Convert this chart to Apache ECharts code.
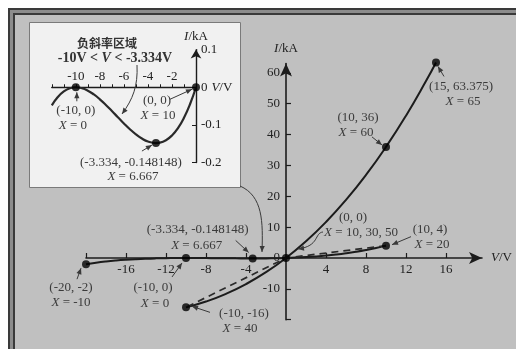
<!DOCTYPE html>
<html>
<head>
<meta charset="utf-8">
<script src="https://cdn.jsdelivr.net/npm/echarts@6/dist/echarts.min.js"></script>
<style>
html,body{margin:0;padding:0;background:#fff;}
#chart{width:516px;height:349px;}
</style>
</head>
<body>
<div id="chart"></div>
<script>
// Lower branch of the I-V characteristic (X from -10 to 20)
const lowV = [-20, -19, -18, -17, -16, -15, -14, -13, -12, -11, -10, -9, -8, -7, -6, -5, -4, -3.334, -3, -2, -1, 0, 1, 2, 3, 4, 5, 6, 7, 8, 9, 10];
const lowI = [-2, -1.539, -1.152, -0.833, -0.576, -0.375, -0.224, -0.117, -0.048, -0.011, 0, -0.009, -0.032, -0.063, -0.096, -0.125, -0.144, -0.148148, -0.147, -0.128, -0.081, 0, 0.121, 0.288, 0.507, 0.784, 1.125, 1.536, 2.023, 2.592, 3.249, 4];

// Upper branch (X from 40 to 65)
const highV = [-10, -8, -6, -4, -2, 0, 2, 4, 6, 8, 10, 12, 14, 15];
const highI = [-16, -14.112, -11.616, -8.464, -4.608, 0, 5.408, 11.664, 18.816, 26.912, 36, 46.128, 57.344, 63.375];

// Straight transitions (X from 20 to 40)
const jumpV = [10, 0, -10];
const jumpI = [4, 0, -16];

// Enlarged negative-slope region
const zoomV = [-12, -11.5, -11, -10.5, -10, -9.5, -9, -8.5, -8, -7.5, -7, -6.5, -6, -5.5, -5, -4.5, -4, -3.334, -3, -2.5, -2, -1.5, -1, -0.5, 0];
const zoomI = [-0.048, -0.0259, -0.011, -0.0026, 0, -0.0024, -0.009, -0.0191, -0.032, -0.0469, -0.063, -0.0796, -0.096, -0.1114, -0.125, -0.1361, -0.144, -0.148148, -0.147, -0.1406, -0.128, -0.1084, -0.081, -0.0451, 0];

// Marked points and their parameter values
const markV = [-20, -10, -3.334, 0, 10, -10, 10, 15];
const markI = [-2, 0, -0.148148, 0, 4, -16, 36, 63.375];
const markX = ['-10', '0', '6.667', '10, 30, 50', '20', '40', '60', '65'];

const zoomMarkV = [-10, -3.334, 0];
const zoomMarkI = [0, -0.148148, 0];
const zoomMarkX = ['0', '6.667', '10'];

// Tick labels
const mainXTicks = [-16, -12, -8, -4, 4, 8, 12, 16];
const mainYTicks = [-10, 0, 10, 20, 30, 40, 50, 60];
const zoomXTicks = [-10, -8, -6, -4, -2];
const zoomYTicks = [0.1, 0, -0.1, -0.2];

const zip = (a, b) => a.map((v, i) => [v, b[i]]);
const SERIF = '"Liberation Serif", "Times New Roman", serif';
const INK = '#1c1c1c';
const NOTE = '#3a3a3a';
const W = 516, H = 349;

// Plot areas and value ranges
const mainGrid = {left: 86, right: 34, top: 63.6, bottom: 29.3};
const mainX = {min: -20, max: 19.6};
const mainY = {min: -20, max: 63};
const zoomGrid = {left: 51.8, right: 320, top: 49.6, bottom: 186.4};
const zoomX = {min: -12, max: 0};
const zoomY = {min: -0.2, max: 0.1};

// Offsets that place each axis on the zero line of the other axis
function zeroOffset(g, r, horizontalAxis) {
  if (horizontalAxis) {
    const h = H - g.top - g.bottom;
    return (0 - r.min) / (r.max - r.min) * h;
  }
  const w = W - g.left - g.right;
  return (0 - r.min) / (r.max - r.min) * w;
}
const mainXOffset = -zeroOffset(mainGrid, mainY, true);   // bottom axis moved up to I = 0
const mainYOffset = -zeroOffset(mainGrid, mainX, false);  // left axis moved right to V = 0
const zoomXOffset = -(H - zoomGrid.top - zoomGrid.bottom - zeroOffset(zoomGrid, zoomY, true)); // top axis moved down to I = 0

const chart = echarts.init(document.getElementById('chart'), null, {renderer: 'canvas'});

const axisText = {fontFamily: SERIF, fontSize: 13, color: '#222'};
const italic = {fontStyle: 'italic', fontFamily: SERIF, fontSize: 13, color: '#222'};

chart.setOption({
  animation: false,
  grid: [mainGrid, zoomGrid],
  xAxis: [
    {
      gridIndex: 0, type: 'value', min: mainX.min, max: mainX.max, interval: 4,
      position: 'bottom', offset: mainXOffset,
      axisLine: {onZero: false, symbol: ['none', 'arrow'], symbolSize: [9, 13], lineStyle: {color: INK, width: 1.6}},
      axisTick: {inside: true, length: 5, customValues: [-20, -16, -12, -8, -4, 4, 8, 12, 16], lineStyle: {color: INK, width: 1.2}},
      axisLabel: {customValues: mainXTicks, margin: 5, ...axisText},
      splitLine: {show: false},
      name: '{i|V}/V', nameLocation: 'end', nameGap: 9,
      nameTextStyle: {...axisText, rich: {i: italic}}
    },
    {
      gridIndex: 1, type: 'value', min: zoomX.min, max: zoomX.max, interval: 1,
      position: 'top', offset: zoomXOffset,
      axisLine: {onZero: false, lineStyle: {color: INK, width: 1.4}},
      axisTick: {inside: false, length: 3, customValues: [-12, -11, -10, -9, -8, -7, -6, -5, -4, -3, -2, -1], lineStyle: {color: INK}},
      axisLabel: {customValues: zoomXTicks, margin: 4, ...axisText},
      splitLine: {show: false},
      name: '{i|V}/V', nameLocation: 'end', nameGap: 15,
      nameTextStyle: {...axisText, rich: {i: italic}}
    }
  ],
  yAxis: [
    {
      gridIndex: 0, type: 'value', min: mainY.min, max: mainY.max, interval: 10,
      position: 'left', offset: mainYOffset,
      axisLine: {onZero: false, symbol: ['none', 'arrow'], symbolSize: [9, 13], lineStyle: {color: INK, width: 1.6}},
      axisTick: {inside: true, length: 5, customValues: [-20, -10, 10, 20, 30, 40, 50, 60], lineStyle: {color: INK, width: 1.2}},
      axisLabel: {customValues: mainYTicks, margin: 6, ...axisText},
      splitLine: {show: false},
      name: '{i|I}/kA', nameLocation: 'end', nameGap: 9,
      nameTextStyle: {...axisText, rich: {i: italic}}
    },
    {
      gridIndex: 1, type: 'value', min: zoomY.min, max: zoomY.max, interval: 0.1,
      position: 'right', offset: 0,
      axisLine: {onZero: false, symbol: ['none', 'arrow'], symbolSize: [8, 9], lineStyle: {color: INK, width: 1.4}},
      axisTick: {inside: true, length: 4, customValues: [-0.1, -0.2], lineStyle: {color: INK}},
      axisLabel: {customValues: zoomYTicks, margin: 5, ...axisText,
        formatter: v => (Math.abs(v) < 1e-9 ? '0' : String(+v.toFixed(1)))},
      splitLine: {show: false},
      name: '{i|I}/kA', nameLocation: 'end', nameGap: 6,
      nameTextStyle: {...axisText, align: 'center', rich: {i: italic}}
    }
  ],
  series: [
    {type: 'line', xAxisIndex: 0, yAxisIndex: 0, data: zip(lowV, lowI), smooth: true, showSymbol: false, clip: false,
      lineStyle: {color: INK, width: 2}, z: 3},
    {type: 'line', xAxisIndex: 0, yAxisIndex: 0, data: zip(highV, highI), smooth: true, showSymbol: false, clip: false,
      lineStyle: {color: INK, width: 2}, z: 3},
    {type: 'line', xAxisIndex: 0, yAxisIndex: 0, data: zip(jumpV, jumpI), showSymbol: false, clip: false,
      lineStyle: {color: '#2a2a2a', width: 1.7, type: [7, 5]}, z: 3},
    {type: 'scatter', xAxisIndex: 0, yAxisIndex: 0, data: zip(markV, markI), symbolSize: 8, clip: false,
      itemStyle: {color: '#000'}, z: 5},
    {type: 'line', xAxisIndex: 1, yAxisIndex: 1, data: zip(zoomV, zoomI), smooth: true, showSymbol: false, clip: false,
      lineStyle: {color: '#2a2a2a', width: 2.2}, z: 3},
    {type: 'scatter', xAxisIndex: 1, yAxisIndex: 1, data: zip(zoomMarkV, zoomMarkI), symbolSize: 8, clip: false,
      itemStyle: {color: '#000'}, z: 5}
  ]
});

// Annotation layout: text line offsets from the marked point and arrow from/to offsets (pixels)
const mainNotes = [
  {l1: [-15, 23], l2: [-15, 38], arrow: [-9, 15, -5, 4]},
  {l1: [-33, 30], l2: [-31, 46], arrow: [-14, 19, -4, 5]},
  {l1: [-55, -29], l2: [-56, -13], arrow: [-17, -18, -4, -6]},
  {l1: [67, -40], l2: [75, -25], curve: [37, -26, 28, -25, 34, -12, 12, -9]},
  {l1: [44, -16], l2: [46, -1], arrow: [25, -9, 6, -1]},
  {l1: [58, 6], l2: [54, 21], arrow: [24, 5, 6, -1]},
  {l1: [-28, -29], l2: [-30, -14], arrow: [-14, -10, -4, -2]},
  {l1: [25, 24], l2: [27, 39], arrow: [8, 14, 2, 4]}
];
const zoomNotes = [
  {l1: [0, 23], l2: [-3, 38], arrow: [1, 14, 1, 5]},
  {l1: [-25, 20], l2: [-23, 34], arrow: [-14, 8, -4, 2]},
  {l1: [-39, 13], l2: [-38, 28], arrow: [-26, 12, -4, 2]}
];

const fmt = v => String(v);
function textEl(x, y, text, opts) {
  return {
    type: 'text', x: x, y: y, z: 20, silent: true,
    style: Object.assign({
      text: text, fontFamily: SERIF, fontSize: 13, fill: NOTE,
      align: 'center', verticalAlign: 'middle',
      rich: {i: {fontStyle: 'italic', fontFamily: SERIF, fontSize: 13, fill: NOTE}}
    }, opts || {})
  };
}
function head(x1, y1, x2, y2) {
  const a = Math.atan2(y2 - y1, x2 - x1), L = 6, Wd = 2.6;
  const bx = x2 - L * Math.cos(a), by = y2 - L * Math.sin(a);
  return {
    type: 'polygon', z: 20, silent: true,
    shape: {points: [[x2, y2], [bx + Wd * Math.sin(a), by - Wd * Math.cos(a)], [bx - Wd * Math.sin(a), by + Wd * Math.cos(a)]]},
    style: {fill: NOTE}
  };
}
function arrowEl(x1, y1, x2, y2) {
  return [
    {type: 'line', z: 20, silent: true, shape: {x1: x1, y1: y1, x2: x2, y2: y2}, style: {stroke: NOTE, lineWidth: 1}},
    head(x1, y1, x2, y2)
  ];
}
function curveEl(x1, y1, c1x, c1y, c2x, c2y, x2, y2) {
  return [
    {type: 'bezierCurve', z: 20, silent: true,
      shape: {x1: x1, y1: y1, cpx1: c1x, cpy1: c1y, cpx2: c2x, cpy2: c2y, x2: x2, y2: y2},
      style: {stroke: NOTE, lineWidth: 1, fill: null}},
    head(c2x, c2y, x2, y2)
  ];
}

function notesFor(gridIndex, vs, is, xs, layout) {
  const out = [];
  vs.forEach((v, k) => {
    const p = chart.convertToPixel({gridIndex: gridIndex}, [v, is[k]]);
    const n = layout[k];
    out.push(textEl(p[0] + n.l1[0], p[1] + n.l1[1], '(' + fmt(v) + ', ' + fmt(is[k]) + ')'));
    out.push(textEl(p[0] + n.l2[0], p[1] + n.l2[1], '{i|X} = ' + xs[k]));
    if (n.arrow) {
      const a = n.arrow;
      out.push(...arrowEl(p[0] + a[0], p[1] + a[1], p[0] + a[2], p[1] + a[3]));
    }
    if (n.curve) {
      const c = n.curve;
      out.push(...curveEl(p[0] + c[0], p[1] + c[1], p[0] + c[2], p[1] + c[3], p[0] + c[4], p[1] + c[5], p[0] + c[6], p[1] + c[7]));
    }
  });
  return out;
}

const frame = [
  {type: 'rect', z: -10, silent: true, shape: {x: 8, y: 8, width: 520, height: 345}, style: {fill: '#3a3a3a'}},
  {type: 'rect', z: -10, silent: true, shape: {x: 10, y: 10, width: 520, height: 345}, style: {fill: '#8c8c8c'}},
  {type: 'rect', z: -10, silent: true, shape: {x: 13, y: 13, width: 520, height: 345}, style: {fill: '#3a3a3a'}},
  {type: 'rect', z: -10, silent: true, shape: {x: 15, y: 15, width: 520, height: 345}, style: {fill: '#c0c0c0'}},
  {type: 'rect', z: -9, silent: true, shape: {x: 29.5, y: 22.5, width: 211, height: 165}, style: {fill: '#f1f1f1', stroke: '#7a7a7a', lineWidth: 1}}
];

const titles = [
  textEl(107, 43, '负斜率区域', {fontFamily: '"Noto Sans CJK SC", sans-serif', fontSize: 12, fontWeight: 'bold', fill: '#333'}),
  textEl(115, 58, '{b|-10V < }{bi|V}{b| < -3.334V}', {
    rich: {
      b: {fontFamily: SERIF, fontSize: 14, fontWeight: 'bold', fill: '#333'},
      bi: {fontFamily: SERIF, fontSize: 14, fontWeight: 'bold', fontStyle: 'italic', fill: '#333'}
    }
  })
];

// Pointers to the negative-slope region
const pointers = [
  ...curveEl(137, 65, 138, 86, 133, 99, 122, 114),
  ...curveEl(240, 186, 263, 196, 263, 222, 262, 252)
];

chart.setOption({
  graphic: {
    elements: [
      ...frame,
      ...titles,
      ...pointers,
      ...notesFor(0, markV, markI, markX, mainNotes),
      ...notesFor(1, zoomMarkV, zoomMarkI, zoomMarkX, zoomNotes)
    ]
  }
});
</script>
</body>
</html>
